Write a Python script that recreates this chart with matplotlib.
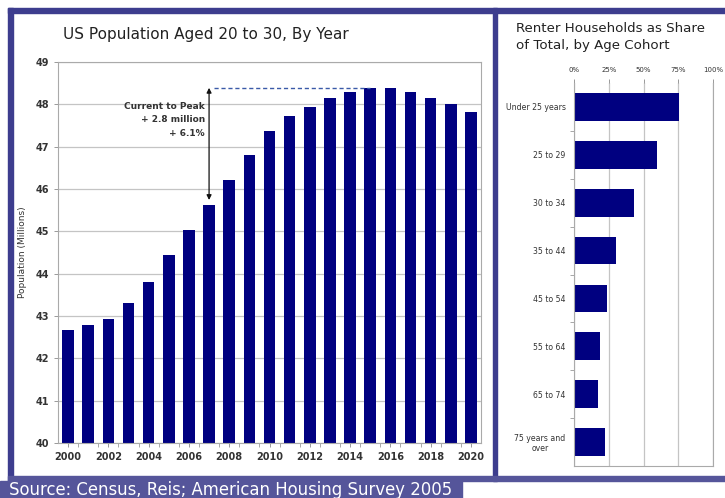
import matplotlib
matplotlib.use('Agg')
import matplotlib.pyplot as plt
from matplotlib.patches import Rectangle

# population aged 20 to 30, millions
years = list(range(2000, 2021))
population = [42.67, 42.78, 42.92, 43.30, 43.81, 44.44, 45.04, 45.62, 46.22, 46.80,
              47.37, 47.73, 47.94, 48.15, 48.28, 48.39, 48.39, 48.29, 48.15, 48.01, 47.82]

# renter share by age cohort, percent
cohorts = ['Under 25 years', '25 to 29', '30 to 34', '35 to 44', '45 to 54',
           '55 to 64', '65 to 74', '75 years and\nover']
renter_share = [75.5, 60.0, 43.0, 30.5, 23.5, 19.0, 17.0, 22.0]

W, H = 725, 498
NAVY = '#000080'
FRAME = '#3d3d8e'
GRID = '#c4c4c4'
TXT = '#333333'

def fx(px):
    return px / W

def fy(py):
    return 1 - py / H

fig = plt.figure(figsize=(W / 100, H / 100), dpi=100)
fig.patch.set_facecolor('white')

# frame around the two panels
fig.patches.append(Rectangle((fx(8), fy(13)), fx(W) - fx(8), 5 / H, transform=fig.transFigure,
                             color=FRAME, zorder=0))
fig.patches.append(Rectangle((fx(8), fy(481)), 5 / W, (481 - 8) / H, transform=fig.transFigure,
                             color=FRAME, zorder=0))
fig.patches.append(Rectangle((fx(493), fy(481)), 4 / W, (481 - 8) / H, transform=fig.transFigure,
                             color=FRAME, zorder=0))
fig.patches.append(Rectangle((fx(8), fy(481)), fx(W) - fx(8), 5 / H, transform=fig.transFigure,
                             color='#55559a', zorder=0))
fig.patches.append(Rectangle((0, 0), fx(462), 17 / H, transform=fig.transFigure,
                             color='#55559a', zorder=0))
fig.text(fx(9), fy(490), 'Source: Census, Reis; American Housing Survey 2005', color='white',
         fontsize=11.9, va='center', ha='left')

# ---- left panel ----
ax = fig.add_axes([fx(58), fy(443), fx(481) - fx(58), fy(62) - fy(443)])
ax.bar(years, population, width=0.58, color=NAVY, zorder=2)
ax.set_xlim(1999.5, 2020.5)
ax.set_ylim(40, 49)
ax.set_yticks(range(40, 50))
ax.set_xticks(years[::2])
ax.set_xticks([y + 0.5 for y in years[:-1]], minor=True)
ax.yaxis.grid(True, color=GRID, lw=0.9, zorder=0)
ax.tick_params(axis='both', labelsize=7, colors='#999999', labelcolor=TXT, length=3, width=0.7)
ax.tick_params(axis='x', which='minor', length=3, colors='#999999')
for lab in ax.get_xticklabels() + ax.get_yticklabels():
    lab.set_fontweight('bold')
for s in ax.spines.values():
    s.set_color('#aaaaaa')
    s.set_linewidth(0.8)
ax.set_ylabel('Population (Millions)', fontsize=6.5, color=TXT, labelpad=6)
fig.text(fx(206), fy(35), 'US Population Aged 20 to 30, By Year', fontsize=11, color='#222222',
         ha='center', va='center')

# peak annotation
peak = max(population)
i_cur = years.index(2007)
ax.plot([2007.25, 2015], [peak, peak], ls=(0, (3, 2)), color='#3a5aa8', lw=1, zorder=3)
ax.annotate('', xy=(2007, peak), xytext=(2007, population[i_cur] + 0.12),
            arrowprops=dict(arrowstyle='<|-|>', color='#111111', lw=0.9,
                            mutation_scale=7, shrinkA=0, shrinkB=0), zorder=3)
ax.text(2006.8, 48.05, 'Current to Peak\n+ 2.8 million\n+ 6.1%', ha='right', va='top',
        fontsize=6.5, fontweight='bold', color=TXT, linespacing=1.6)

# ---- right panel ----
ax2 = fig.add_axes([fx(574), fy(466), fx(713) - fx(574), fy(83) - fy(466)])
pos = list(range(len(cohorts)))
ax2.barh(pos, renter_share, height=0.58, color=NAVY, zorder=2)
ax2.set_xlim(0, 100)
ax2.set_ylim(len(cohorts) - 0.5, -0.5)
ax2.set_xticks([0, 25, 50, 75, 100])
ax2.set_xticklabels(['0%', '25%', '50%', '75%', '100%'])
ax2.xaxis.tick_top()
ax2.set_yticks(pos)
ax2.set_yticklabels(cohorts, multialignment='center')
ax2.set_yticks([p + 0.5 for p in pos[:-1]], minor=True)
ax2.xaxis.grid(True, color=GRID, lw=0.9, zorder=0)
ax2.tick_params(axis='x', labelsize=5, colors='#999999', labelcolor=TXT, length=3, width=0.7, pad=4)
ax2.tick_params(axis='y', which='major', labelsize=5.6, length=0, labelcolor=TXT, pad=6)
ax2.tick_params(axis='y', which='minor', length=3, colors='#999999')
ax2.spines['top'].set_visible(False)
for s in ['left', 'bottom', 'right']:
    ax2.spines[s].set_color('#aaaaaa')
    ax2.spines[s].set_linewidth(0.8)
fig.text(fx(516), fy(37.5), 'Renter Households as Share\nof Total, by Age Cohort', fontsize=9.6,
         color='#222222', ha='left', va='center', linespacing=1.4)

fig.savefig('out.png', dpi=100)
